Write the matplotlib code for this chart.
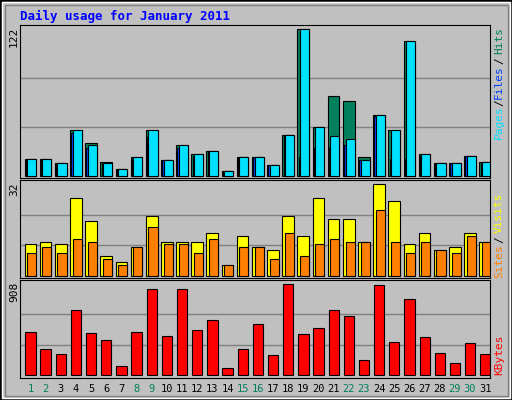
import numpy as np
import matplotlib.pyplot as plt
from matplotlib.patches import Rectangle

# ----- Data -----
days = list(range(1, 32))
weekend = [1, 2, 8, 9, 15, 16, 22, 23, 29, 30]
hits = [14, 14, 11, 38, 27, 12, 6, 16, 38, 13, 26, 18, 21, 4, 16, 16, 9, 34, 122, 41, 66, 62, 16, 51, 38, 112, 18, 11, 11, 17, 12]
files = [14, 14, 11, 38, 26, 11, 6, 16, 38, 13, 26, 18, 21, 4, 16, 16, 9, 34, 122, 41, 33, 31, 13, 51, 38, 112, 18, 11, 11, 17, 12]
pages = [14, 14, 11, 36, 23, 11, 6, 14, 32, 13, 23, 17, 21, 4, 16, 16, 9, 34, 16, 23, 23, 26, 13, 50, 14, 14, 17, 11, 11, 17, 12]
visits = [11, 12, 11, 27, 19, 7, 5, 10, 21, 12, 12, 12, 15, 4, 14, 10, 9, 21, 14, 27, 20, 20, 12, 32, 26, 11, 15, 9, 10, 15, 12]
sites = [8, 10, 8, 13, 12, 6, 4, 10, 17, 11, 11, 8, 13, 4, 10, 10, 6, 15, 7, 11, 13, 12, 12, 23, 12, 8, 12, 9, 8, 14, 12]
kbytes = [429, 259, 210, 649, 419, 349, 90, 429, 858, 389, 858, 449, 549, 70, 259, 509, 200, 908, 409, 469, 649, 589, 150, 898, 329, 758, 379, 220, 120, 319, 210]

W, H = 512, 400
BG = '#c0c0c0'
MONO = 'DejaVu Sans Mono'
fig = plt.figure(figsize=(W / 100, H / 100), dpi=100, facecolor=BG)

# ----- Outer frame -----
fig.patches.append(Rectangle((0, 0), 1, 1, transform=fig.transFigure, fill=False, ec='black', lw=2))
fig.patches.append(Rectangle((2 / W, 2 / H), 1 - 4 / W, 1 - 4 / H, transform=fig.transFigure, fill=False, ec='white', lw=1))
fig.patches.append(Rectangle((5 / W, 4 / H), 1 - 9 / W, 1 - 9 / H, transform=fig.transFigure, fill=False, ec='#808080', lw=1))

fig.text(20 / W, 1 - 16 / H, 'Daily usage for January 2011', color='#0000ff', fontsize=9,
         family=MONO, fontweight='bold', va='center')


def side_label(ypx, txt, color):
    fig.text(499 / W, 1 - ypx / H, txt, color=color, rotation=90, fontsize=8,
             family=MONO, ha='center', va='center')


def panel(top, bottom, base, peak, vmax):
    ax = fig.add_axes([20 / W, 1 - bottom / H, 470 / W, (bottom - top) / H])
    ax.set_facecolor(BG)
    ax.set_xlim(-0.3, 30.7)
    ymin = -vmax * (bottom - base) / (base - peak)
    ymax = vmax * (base - top) / (base - peak)
    ax.set_ylim(ymin, ymax)
    for g in (vmax / 3, 2 * vmax / 3):
        ax.axhline(g, color='#808080', lw=1, zorder=0)
    ax.set_xticks([])
    ax.set_yticks([])
    for s in ax.spines.values():
        s.set_color('black')
    fig.text(14 / W, 1 - (top + 2) / H, f'{vmax}', rotation=90, ha='center', va='top',
             fontsize=8, family=MONO)
    return ax


x = np.arange(31)
kw = dict(align='edge', edgecolor='black', linewidth=0.8)

# ----- Hits / Files / Pages -----
ax1 = panel(25, 178, 176, 29, max(hits))
ax1.bar(x, hits, width=0.77, color='#00805c', **kw)
ax1.bar(x + 0.08, pages, width=0.6, color='#0040ff', **kw)
ax1.bar(x + 0.17, files, width=0.6, color='#00e0ff', **kw)
side_label(122, 'Pages', '#00e0ff')
side_label(103, '/', 'black')
side_label(82, 'Files', '#0040ff')
side_label(61, '/', 'black')
side_label(41, 'Hits', '#00805c')

# ----- Visits / Sites -----
ax2 = panel(180, 278, 276, 184, max(visits))
ax2.bar(x, visits, width=0.77, color='#ffff00', **kw)
ax2.bar(x + 0.17, sites, width=0.6, color='#ff8000', **kw)
side_label(261, 'Sites', '#ff8000')
side_label(240, '/', 'black')
side_label(213, 'Visits', '#ffff00')

# ----- KBytes -----
ax3 = panel(280, 378, 375, 284, max(kbytes))
ax3.bar(x + 0.05, kbytes, width=0.68, color='#ff0000', **kw)
side_label(355, 'KBytes', '#ff0000')

# ----- Day labels -----
for i, d in enumerate(days):
    c = '#00805c' if d in weekend else 'black'
    xf = (20 + (i + 0.3 + 0.385) * 470 / 31) / W
    fig.text(xf, 1 - 389 / H, str(d), color=c, fontsize=7.5, family=MONO, ha='center', va='center')

fig.savefig('out.png', dpi=100, facecolor=BG)
